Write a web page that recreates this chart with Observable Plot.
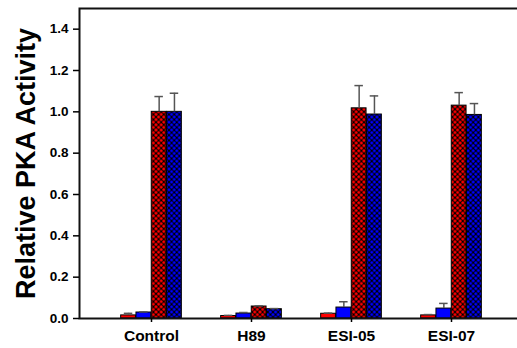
<!DOCTYPE html>
<html>
<head>
<meta charset="utf-8">
<script src="https://cdn.jsdelivr.net/npm/d3@7"></script>
<script src="https://cdn.jsdelivr.net/npm/@observablehq/plot@0.6"></script>
<style>
  html, body { margin: 0; padding: 0; background: #fff; }
</style>
</head>
<body>
<div id="chart"></div>
<script>
const categories = ["Control", "H89", "ESI-05", "ESI-07"];
const seriesNames = ["red solid", "blue solid", "red hatched", "blue hatched"];
const redSolid = [0.015, 0.012, 0.023, 0.015];
const redSolidErr = [0.010, 0.003, 0.003, 0.004];
const blueSolid = [0.029, 0.024, 0.053, 0.048];
const blueSolidErr = [0.003, 0.005, 0.028, 0.025];
const redHatch = [1.0, 0.058, 1.017, 1.03];
const redHatchErr = [0.074, 0.003, 0.11, 0.063];
const blueHatch = [1.0, 0.045, 0.987, 0.985];
const blueHatchErr = [0.09, 0.003, 0.09, 0.055];
const yTicks = [0, 0.2, 0.4, 0.6, 0.8, 1.0, 1.2, 1.4];

const seriesValues = [redSolid, blueSolid, redHatch, blueHatch];
const seriesErrs = [redSolidErr, blueSolidErr, redHatchErr, blueHatchErr];
const seriesFills = ["#ff0000", "#0000ff", "url(#hatchRed)", "url(#hatchBlue)"];

const band = 100.5, barW = 15.3, capW = 9;

function defs() {
  const d = d3.create("svg:defs");
  const s = 5.2, r = 1.55;
  [["hatchRed", "#ff0000"], ["hatchBlue", "#0000ff"]].forEach(([id, c]) => {
    const p = d.append("pattern").attr("id", id).attr("patternUnits", "userSpaceOnUse")
      .attr("width", s).attr("height", s);
    p.append("rect").attr("width", s).attr("height", s).attr("fill", "#000");
    [[0, 0], [s, 0], [0, s], [s, s], [s / 2, s / 2]].forEach(([cx, cy]) =>
      p.append("circle").attr("cx", cx).attr("cy", cy).attr("r", r).attr("fill", c));
  });
  return d.node();
}

const marks = [defs];
seriesValues.forEach((vals, i) => {
  const rows = categories.map((c, j) => ({cat: c, v: vals[j], e: seriesErrs[i][j]}));
  const insetLeft = band / 2 - 2 * barW + i * barW;
  const insetRight = band - insetLeft - barW;
  marks.push(Plot.barY(rows, {
    x: "cat", y: "v", fill: seriesFills[i], stroke: "#000", strokeWidth: 1,
    insetLeft, insetRight
  }));
  const off = (i - 1.5) * barW;
  marks.push(Plot.ruleX(rows, {
    x: "cat", y1: "v", y2: d => d.v + d.e, dx: off, stroke: "#555", strokeWidth: 1.5
  }));
  marks.push(Plot.tickY(rows, {
    x: "cat", y: d => d.v + d.e, stroke: "#555", strokeWidth: 1.5,
    insetLeft: band / 2 + off - capW / 2, insetRight: band / 2 - off - capW / 2
  }));
});

marks.push(Plot.frame({stroke: "#111", strokeWidth: 2}));
marks.push(Plot.axisY({
  ticks: yTicks, tickFormat: d3.format(".1f"), tickSize: 6, tickPadding: 5,
  fontSize: 13.5, strokeWidth: 1.5, label: null
}));
marks.push(Plot.axisX({
  tickSize: 4, tickPadding: 7, fontSize: 15.5, strokeWidth: 1.5, label: null
}));
marks.push(Plot.text(["Relative PKA Activity"], {
  text: d => d, frameAnchor: "left", rotate: -90, dx: -53,
  textAnchor: "middle", lineAnchor: "middle",
  fontSize: 27, fontWeight: "bold", fill: "#000"
}));

const chart = Plot.plot({
  width: 517,
  height: 348,
  marginLeft: 79,
  marginTop: 8,
  marginBottom: 30,
  marginRight: -20,
  style: {fontFamily: "'Liberation Sans', Arial, sans-serif", fontWeight: "bold", color: "#000", background: "#fff"},
  x: {type: "band", domain: categories, range: [150 - band / 2, 150 + band * 3.5], padding: 0},
  y: {domain: [0, 1.5]},
  marks
});
document.getElementById("chart").appendChild(chart);
</script>
</body>
</html>
